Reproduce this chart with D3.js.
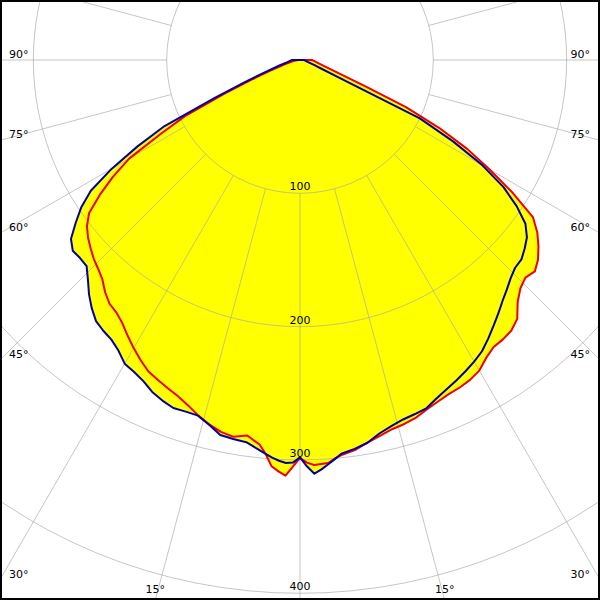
<!DOCTYPE html>
<html><head><meta charset="utf-8">
<script src="https://cdn.jsdelivr.net/npm/d3@7"></script>
<style>html,body{margin:0;padding:0;background:#fff;} svg{display:block;}</style>
</head><body>
<script>
// polar angles (gamma, degrees from nadir)
const gammas = [0,1,2,3,4,5,6,8,10,12,14,16,18,20,22,24,26,28,30,32,34,36,38,40,42,44,46,48,50,52,54,56,58,60,62,64,66,68,70,75,80,85,90];
// intensities (left half = C180 side, right half = C0 side)
const blueLeft  = [298,302,302.5,301,299,296.5,294,289.5,288.7,287.6,282,277.5,277.3,277.8,275.5,272.5,268,265,263,257,253,251,248.5,243,236.5,229,222.5,222,222.5,218,208,198,185,163,138,113,70,45,32,16,10,7.5,6];
const blueRight = [298,305,310.5,307.5,304,300.5,297,294.5,291.5,286.4,283,280.5,279.2,277.8,273.7,270.4,267.4,264.4,261.2,257.6,252.3,246.8,241.5,236.2,231.8,227.5,224.3,223.5,220,216,209,196,180,158,130,100,30,17,12,6.7,4.6,3.6,3];
const redLeft   = [298.5,305,312,309,305.5,296.5,290,284.4,287,285.2,281.6,277.3,272.2,268.2,265.3,262.5,259.7,254.8,249.5,243.9,238.2,234.2,232,227.4,221.5,217.9,214.9,211.3,207.5,202.8,195.6,181.3,165.5,148,119,96,62,38,25,11,5,2.5,1];
const redRight  = [298.5,302,304,303.5,303,300,298,295.5,291.5,288.3,285.4,284,282,278.7,276.3,274.3,273.3,271.7,269,263.5,259.7,259,257.5,253.5,244,238,235,237,233,227,220,210.7,188.3,164,142,116,87,53,36.4,20.4,14.2,11.2,9];
// grid
const ringValues = [100,200,300,400];
const ringLabels = ["100","200","300","400"];
const spokeAngles = d3.range(0,360,15);
const angleLabelValues = [15,30,45,60,75,90];

const W = 600, H = 600, cx = 300, cy = 60;
const r = d3.scaleLinear().domain([0,400]).range([0,533.3]);
const rad = d => d*Math.PI/180;

const svg = d3.select("body").append("svg").attr("width",W).attr("height",H);
svg.append("rect").attr("width",W).attr("height",H).attr("fill","#fff");
const g = svg.append("g").attr("transform",`translate(${cx},${cy})`);

function outline(left,right){
  const pts=[];
  for(let i=gammas.length-1;i>=0;i--) pts.push([Math.PI+rad(gammas[i]), left[i]]);
  for(let i=1;i<gammas.length;i++) pts.push([Math.PI-rad(gammas[i]), right[i]]);
  return pts;
}
const envLeft = blueLeft.map((v,i)=>Math.max(v,redLeft[i]));
const envRight = blueRight.map((v,i)=>Math.max(v,redRight[i]));

const line = d3.lineRadial().angle(d=>d[0]).radius(d=>r(d[1])).curve(d3.curveLinearClosed);

// yellow fill
g.append("path").attr("d",line(outline(envLeft,envRight))).attr("fill","#ffff00").attr("stroke","none");

// grid
const grid = g.append("g").attr("stroke","#a8a8a8").attr("stroke-opacity",0.65).attr("fill","none").attr("stroke-width",1);
ringValues.forEach(v=>grid.append("circle").attr("r",r(v)));
spokeAngles.forEach(a=>{
  const s=Math.sin(rad(a)), c=Math.cos(rad(a));
  grid.append("line").attr("x1",r(100)*s).attr("y1",r(100)*c).attr("x2",900*s).attr("y2",900*c);
});

// curves
g.append("path").attr("d",line(outline(redLeft,redRight))).attr("fill","none").attr("stroke","#ee0000").attr("stroke-width",2).attr("stroke-linejoin","round");
g.append("path").attr("d",line(outline(blueLeft,blueRight))).attr("fill","none").attr("stroke","#0000a8").attr("stroke-width",2).attr("stroke-linejoin","round");

// labels
const font = {"font-family":"DejaVu Sans, Verdana, sans-serif","font-size":"11px","fill":"#000"};
function txt(x,y,t,anchor){
  const e = svg.append("text").attr("x",x).attr("y",y).attr("text-anchor",anchor).text(t);
  Object.entries(font).forEach(([k,v])=>e.attr(k,v));
}
ringValues.forEach((v,i)=>txt(cx, cy + r(v) - 3, ringLabels[i], "middle"));
angleLabelValues.forEach(a=>{
  [-1,1].forEach(sd=>{
    const s=Math.sin(rad(a)), c=Math.cos(rad(a));
    const yEdge = cy + (300/s)*c;
    if (yEdge <= H) {
      if (sd<0) txt(9, yEdge-2, a+"°", "start");
      else txt(W-10, yEdge-2, a+"°", "end");
    } else {
      const tb = (H-cy)/c;
      txt(cx + sd*tb*s, 593, a+"°", "middle");
    }
  });
});

// frame
svg.append("rect").attr("x",0).attr("y",0).attr("width",W).attr("height",H).attr("fill","none").attr("stroke","#000").attr("stroke-width",4);
</script>
</body></html>
